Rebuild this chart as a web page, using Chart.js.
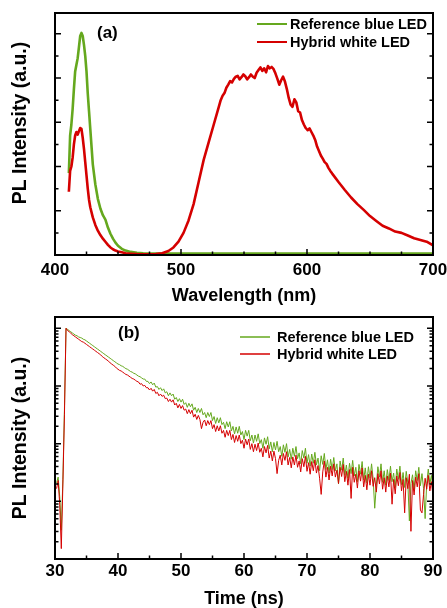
<!DOCTYPE html>
<html>
<head>
<meta charset="utf-8">
<script src="https://cdn.jsdelivr.net/npm/chart.js@4.4.1/dist/chart.umd.min.js"></script>
<style>
  html, body { margin: 0; padding: 0; background: #fff; }
  #wrap { position: relative; width: 447px; height: 608px; overflow: hidden; }
  canvas { position: absolute; left: 0; }
</style>
</head>
<body>
<div id="wrap">
  <canvas id="spec" width="447" height="312" style="top:0"></canvas>
  <canvas id="decay" width="447" height="308" style="top:300px"></canvas>
</div>
<script>
/* PL spectra (a) and PL decay (b) of reference blue / hybrid white LED */

const labels = ["Reference blue LED", "Hybrid white LED"];

// ─── (a) PL spectra ───────────────────────────────────────────────────────────

const wlBlue = [
  411, 412, 413, 414, 415, 416, 417, 418, 419, 420, 421, 422, 423, 424, 425, 426, 427, 428,
  430, 432, 434, 436, 438, 440, 442, 444, 446, 448,
  450, 453, 456, 460, 465, 470, 475, 480,
  500, 550, 600, 650, 700,
];

const blueA = [
  1.85, 2.70, 2.95, 3.30, 3.75, 4.15, 4.30, 4.45, 4.70, 4.95, 5.02, 4.95, 4.75, 4.50, 4.15, 3.65, 3.25, 2.85,
  2.05, 1.60, 1.27, 1.05, 0.90, 0.80, 0.62, 0.48, 0.37, 0.28,
  0.21, 0.14, 0.10, 0.07, 0.05, 0.04, 0.035, 0.03,
  0.03, 0.03, 0.03, 0.03, 0.03,
];

const wlWhite = [
  411, 412, 413, 414, 415, 416, 417, 418, 419, 420, 421, 422, 423, 424, 425, 426, 427, 428,
  430, 432, 434, 436, 438, 440, 442, 444, 446, 448,
  450, 453, 456, 460, 465, 470, 475, 480,
  485, 490, 494, 498, 502, 506, 510, 514, 518, 522, 526,
  530, 531.5, 533, 534.5, 536, 537.5, 539, 540.5, 542, 543.5,
  545, 546.5, 548, 549.5, 551, 552.5, 554, 555.5, 557, 558.5,
  560, 561.5, 563, 564.5, 566, 567.5, 569, 570.5, 572, 573.5,
  575, 576.5, 578, 579.5, 581, 582.5, 584, 585.5, 587, 588.5,
  590, 591.5, 593, 594.5, 596, 597.5, 599, 600.5, 602, 603.5,
  605, 606.5, 608, 609.5, 611, 612.5, 614, 615.5, 617, 618.5, 620,
  625, 630, 635, 640, 645, 650, 655, 660, 665, 670, 675, 680, 685, 690, 695, 700,
];

const whiteA = [
  1.43, 1.90, 2.00, 2.20, 2.50, 2.70, 2.78, 2.72, 2.80, 2.87, 2.85, 2.65, 2.40, 2.10, 1.80, 1.50, 1.25, 1.08,
  0.85, 0.68, 0.55, 0.45, 0.37, 0.30, 0.23, 0.17, 0.13, 0.10,
  0.08, 0.06, 0.04, 0.03, 0.02, 0.015, 0.015, 0.02,
  0.04, 0.09, 0.17, 0.30, 0.50, 0.78, 1.15, 1.65, 2.15, 2.55, 2.95,
  3.35, 3.50, 3.60, 3.66, 3.78, 3.85, 3.93, 3.90, 3.98, 4.03,
  4.05, 3.97, 4.02, 4.08, 4.04, 3.97, 4.02, 4.08, 4.03, 4.00,
  4.12, 4.18, 4.24, 4.16, 4.22, 4.13, 4.27, 4.22, 4.25, 4.20,
  4.10, 3.98, 3.85, 3.95, 4.03, 3.92, 3.75, 3.55, 3.40, 3.35,
  3.52, 3.45, 3.25, 3.22, 3.05, 2.95, 2.87, 2.82, 2.86, 2.78,
  2.70, 2.60, 2.45, 2.35, 2.25, 2.18, 2.10, 2.06, 1.97, 1.90, 1.84,
  1.65, 1.47, 1.30, 1.15, 1.02, 0.88, 0.77, 0.66, 0.60, 0.53, 0.50, 0.44, 0.38, 0.34, 0.30, 0.22,
];

const wlTicks = [400, 500, 600, 700];
const specTicks = [0, 1, 2, 3, 4, 5];   // unlabelled y ticks

// ─── (b) PL decay, log10 of counts, one value per 0.25 ns channel ─────────────

const T0 = 30.25, DT = 0.25;

const blueLogB = [
  1.32, 1.42, 1.08, 0.50,  1.38, 2.60, 4.00, 3.98,  3.96, 3.94, 3.92, 3.90,  3.88, 3.87, 3.85, 3.84,
  3.83, 3.81, 3.80, 3.78,  3.76, 3.74, 3.72, 3.70,  3.68, 3.66, 3.64, 3.62,  3.60, 3.58, 3.56, 3.54,
  3.52, 3.50, 3.48, 3.46,  3.44, 3.42, 3.40, 3.38,  3.37, 3.35, 3.34, 3.32,  3.30, 3.29, 3.27, 3.25,
  3.24, 3.22, 3.21, 3.19,  3.17, 3.16, 3.14, 3.12,  3.12, 3.08, 3.08, 3.04,  3.07, 3.02, 3.05, 2.98,
  2.99, 2.94, 2.97, 2.92,  2.95, 2.88, 2.90, 2.83,  2.88, 2.83, 2.86, 2.77,  2.80, 2.73, 2.78, 2.72,
  2.77, 2.68, 2.71, 2.63,  2.70, 2.64, 2.69, 2.58,  2.63, 2.54, 2.61, 2.54,  2.61, 2.50, 2.54, 2.45,
  2.54, 2.47, 2.54, 2.40,  2.47, 2.35, 2.45, 2.36,  2.45, 2.33, 2.37, 2.26,  2.38, 2.29, 2.38, 2.22,
  2.30, 2.17, 2.29, 2.18,  2.30, 2.15, 2.21, 2.07,  2.23, 2.13, 2.23, 2.05,  2.15, 2.01, 2.15, 2.04,
  2.17, 2.00, 2.07, 1.92,  2.10, 1.99, 2.12, 1.91,  2.03, 1.86, 2.02, 1.89,  2.04, 1.86, 1.95, 1.78,
  1.98, 1.85, 2.00, 1.77,  1.90, 1.73, 1.92, 1.78,  1.95, 1.74, 1.84, 1.65,  1.88, 1.75, 1.92, 1.66,
  1.81, 1.61, 1.82, 1.66,  1.85, 1.63, 1.75, 1.53,  1.79, 1.64, 1.83, 1.55,  1.72, 1.49, 1.73, 1.55,
  1.76, 1.53, 1.65, 1.30,  1.70, 1.54, 1.75, 1.45,  1.63, 1.40, 1.66, 1.48,  1.71, 1.44, 1.59, 1.34,
  1.64, 1.47, 1.69, 1.37,  1.58, 1.32, 1.60, 1.40,  1.65, 1.39, 0.88, 1.28,  1.60, 1.42, 1.65, 1.33,
  1.53, 1.28, 1.55, 1.36,  1.61, 1.34, 1.49, 1.24,  1.56, 1.38, 1.61, 1.29,  1.50, 1.24, 1.52, 1.33,
  0.66, 1.31, 1.46, 1.21,  1.53, 1.36, 1.59, 1.27,  1.48, 1.22, 0.70, 1.31,  1.56, 1.30, 1.45, 1.20,
];

const whiteLogB = [
  1.22, 1.36, 0.95, 0.18,  1.30, 2.50, 4.00, 3.96,  3.94, 3.915, 3.89, 3.87, 3.85, 3.83, 3.81, 3.79,
  3.77, 3.76, 3.74, 3.72,  3.70, 3.68, 3.66, 3.64,  3.62, 3.60, 3.58, 3.56,  3.54, 3.51, 3.49, 3.47,
  3.45, 3.43, 3.40, 3.38,  3.36, 3.34, 3.31, 3.29,  3.27, 3.26, 3.24, 3.22,  3.20, 3.19, 3.17, 3.15,
  3.13, 3.12, 3.10, 3.08,  3.07, 3.03, 3.04, 3.00,  3.01, 2.97, 2.97, 2.93,  2.96, 2.91, 2.94, 2.87,
  2.89, 2.83, 2.86, 2.82,  2.84, 2.78, 2.79, 2.73,  2.77, 2.72, 2.76, 2.67,  2.70, 2.62, 2.68, 2.61,
  2.66, 2.58, 2.60, 2.52,  2.59, 2.52, 2.58, 2.46,  2.51, 2.42, 2.49, 2.42,  2.26, 2.37, 2.41, 2.31,
  2.40, 2.33, 2.40, 2.26,  2.33, 2.21, 2.31, 2.22,  2.31, 2.18, 2.23, 2.11,  2.23, 2.14, 2.23, 2.07,
  2.16, 2.02, 2.14, 2.04,  2.15, 2.00, 2.06, 1.92,  2.08, 1.98, 2.08, 1.90,  2.00, 1.86, 1.99, 1.88,
  2.01, 1.85, 1.92, 1.77,  1.95, 1.84, 1.97, 1.75,  1.87, 1.70, 1.87, 1.74,  1.48, 1.71, 1.80, 1.63,
  1.83, 1.71, 1.86, 1.63,  1.76, 1.58, 1.77, 1.63,  1.80, 1.59, 1.70, 1.51,  1.74, 1.60, 1.78, 1.52,
  1.67, 1.47, 1.69, 1.53,  1.72, 1.49, 1.62, 1.40,  1.12, 1.51, 1.70, 1.42,  1.59, 1.37, 1.61, 1.44,
  1.65, 1.42, 1.54, 1.31,  1.59, 1.43, 1.64, 1.34,  1.52, 1.28, 1.55, 1.05,  1.59, 1.33, 1.47, 1.23,
  1.53, 1.35, 1.58, 1.25,  1.45, 1.20, 1.47, 1.28,  1.53, 1.26, 1.41, 1.16,  1.48, 1.30, 1.53, 1.21,
  1.41, 1.16, 1.44, 1.25,  1.49, 0.95, 1.38, 1.13,  1.44, 1.27, 1.50, 1.18,  1.38, 0.80, 1.41, 1.22,
  1.47, 0.48, 1.36, 1.11,  1.42, 1.25, 1.48, 0.85,  0.80, 1.12, 1.40, 1.21,  1.45, 1.18, 1.34, 1.09,
];

const timeTicks = [30, 40, 50, 60, 70, 80, 90];
const decayTicks = [1, 10, 100, 1000, 10000];   // unlabelled decades

const GREEN = "#65a81e";
const RED = "#d50000";
const FONT = "'Liberation Sans', Arial, Helvetica, sans-serif";

// ─── Frame, inward ticks, legend, panel tag ──────────────────────────────────

function linMinors(major, n) {
  const out = [];
  for (let i = 0; i < major.length - 1; i++) {
    const step = (major[i + 1] - major[i]) / n;
    for (let k = 1; k < n; k++) out.push(major[i] + k * step);
  }
  return out;
}

function logMinors(major) {
  const out = [];
  major.forEach(d => { for (let m = 2; m <= 9; m++) out.push(d * m); });
  return out;
}

const framePlugin = {
  id: "frame",
  afterDraw(chart, args, o) {
    const { ctx, chartArea: a, scales: { x, y } } = chart;
    ctx.save();
    ctx.strokeStyle = "#000";
    ctx.lineWidth = 1.5;
    ctx.beginPath();
    const xt = (v, len) => {
      const px = x.getPixelForValue(v);
      if (px <= a.left + 1 || px >= a.right - 1) return;
      ctx.moveTo(px, a.bottom); ctx.lineTo(px, a.bottom - len);
    };
    const yt = (v, len) => {
      const py = y.getPixelForValue(v);
      if (py <= a.top + 1 || py >= a.bottom - 1) return;
      ctx.moveTo(a.left, py); ctx.lineTo(a.left + len, py);
      ctx.moveTo(a.right, py); ctx.lineTo(a.right - len, py);
    };
    o.xMajor.forEach(v => xt(v, 6));
    o.xMinor.forEach(v => xt(v, 3.5));
    o.yMajor.forEach(v => yt(v, 6));
    o.yMinor.forEach(v => yt(v, 3.5));
    ctx.stroke();

    ctx.lineWidth = 2;
    ctx.strokeRect(a.left, a.top, a.right - a.left, a.bottom - a.top);

    // legend
    ctx.font = `bold 14.5px ${FONT}`;
    ctx.textBaseline = "middle";
    ctx.textAlign = "left";
    ctx.fillStyle = "#000";
    chart.data.datasets.forEach((ds, i) => {
      const ly = o.legend.ys[i];
      ctx.strokeStyle = ds.borderColor;
      ctx.lineWidth = o.legend.lw;
      ctx.beginPath();
      ctx.moveTo(o.legend.x0, ly); ctx.lineTo(o.legend.x1, ly);
      ctx.stroke();
      ctx.fillText(ds.label, o.legend.tx, ly + 1);
    });

    // panel tag
    ctx.font = `bold 17px ${FONT}`;
    ctx.fillText(o.tag.text, o.tag.x, o.tag.y);

    // y title
    ctx.font = `bold 19.5px ${FONT}`;
    ctx.textAlign = "center";
    ctx.translate(o.yTitle.x, o.yTitle.y);
    ctx.rotate(-Math.PI / 2);
    ctx.fillText(o.yTitle.text, 0, 0);
    ctx.restore();
  },
};

function xAxis(min, max, step, title, height, titlePad, tickPad) {
  return {
    type: "linear",
    min, max,
    afterFit: s => { s.height = height; s.paddingLeft = 0; s.paddingRight = 0; },
    grid: { display: false, drawTicks: false },
    border: { display: false },
    ticks: {
      stepSize: step, color: "#000", padding: tickPad, maxRotation: 0, autoSkip: false,
      font: { family: FONT, size: 17, weight: "bold" },
    },
    title: {
      display: true, text: title, color: "#000",
      font: { family: FONT, size: 18, weight: "bold", lineHeight: 1 },
      padding: { top: 0, bottom: titlePad },
    },
  };
}

function hiddenY(extra) {
  return Object.assign({
    afterFit: s => { s.width = 55; },
    ticks: { display: false },
    grid: { display: false, drawTicks: false },
    border: { display: false },
  }, extra);
}

const common = {
  responsive: false,
  devicePixelRatio: 1,
  animation: false,
  events: [],
  elements: { point: { radius: 0 }, line: { tension: 0, borderJoinStyle: "round" } },
};

// ─── Chart (a) ────────────────────────────────────────────────────────────────

new Chart(document.getElementById("spec"), {
  type: "line",
  data: {
    datasets: [
      { label: labels[0], data: wlBlue.map((x, i) => ({ x, y: blueA[i] })), borderColor: GREEN, borderWidth: 2.6, order: 2 },
      { label: labels[1], data: wlWhite.map((x, i) => ({ x, y: whiteA[i] })), borderColor: RED, borderWidth: 2.6, order: 1 },
    ],
  },
  options: {
    ...common,
    layout: { padding: { left: 0, right: 14, top: 13, bottom: 0 } },
    scales: {
      x: xAxis(400, 700, 100, "Wavelength (nm)", 57, 7, 5),
      y: hiddenY({ min: 0, max: 5.47 }),
    },
    plugins: {
      legend: { display: false },
      tooltip: { enabled: false },
      frame: {
        xMajor: wlTicks, xMinor: linMinors(wlTicks, 4),
        yMajor: specTicks, yMinor: linMinors(specTicks, 2),
        legend: { x0: 257, x1: 287, tx: 290, ys: [24, 42], lw: 2 },
        tag: { text: "(a)", x: 97, y: 33 },
        yTitle: { text: "PL Intensity (a.u.)", x: 21, y: 123 },
      },
    },
  },
  plugins: [framePlugin],
});

// ─── Chart (b) ────────────────────────────────────────────────────────────────

const timeB = blueLogB.map((_, i) => T0 + i * DT);

new Chart(document.getElementById("decay"), {
  type: "line",
  data: {
    datasets: [
      { label: labels[0], data: timeB.map((x, i) => ({ x, y: 10 ** blueLogB[i] })), borderColor: GREEN, borderWidth: 1, order: 2 },
      { label: labels[1], data: timeB.map((x, i) => ({ x, y: 10 ** whiteLogB[i] })), borderColor: RED, borderWidth: 1, order: 1 },
    ],
  },
  options: {
    ...common,
    layout: { padding: { left: 0, right: 14, top: 17, bottom: 0 } },
    scales: {
      x: xAxis(30, 90, 10, "Time (ns)", 49, 0, 2),
      y: hiddenY({ type: "logarithmic", min: 1, max: 15700 }),
    },
    plugins: {
      legend: { display: false },
      tooltip: { enabled: false },
      frame: {
        xMajor: timeTicks, xMinor: linMinors(timeTicks, 2),
        yMajor: decayTicks, yMinor: logMinors(decayTicks),
        legend: { x0: 240, x1: 270, tx: 277, ys: [37, 54], lw: 1.5 },
        tag: { text: "(b)", x: 118, y: 33 },
        yTitle: { text: "PL Intensity (a.u.)", x: 21, y: 138 },
      },
    },
  },
  plugins: [framePlugin],
});
</script>
</body>
</html>
